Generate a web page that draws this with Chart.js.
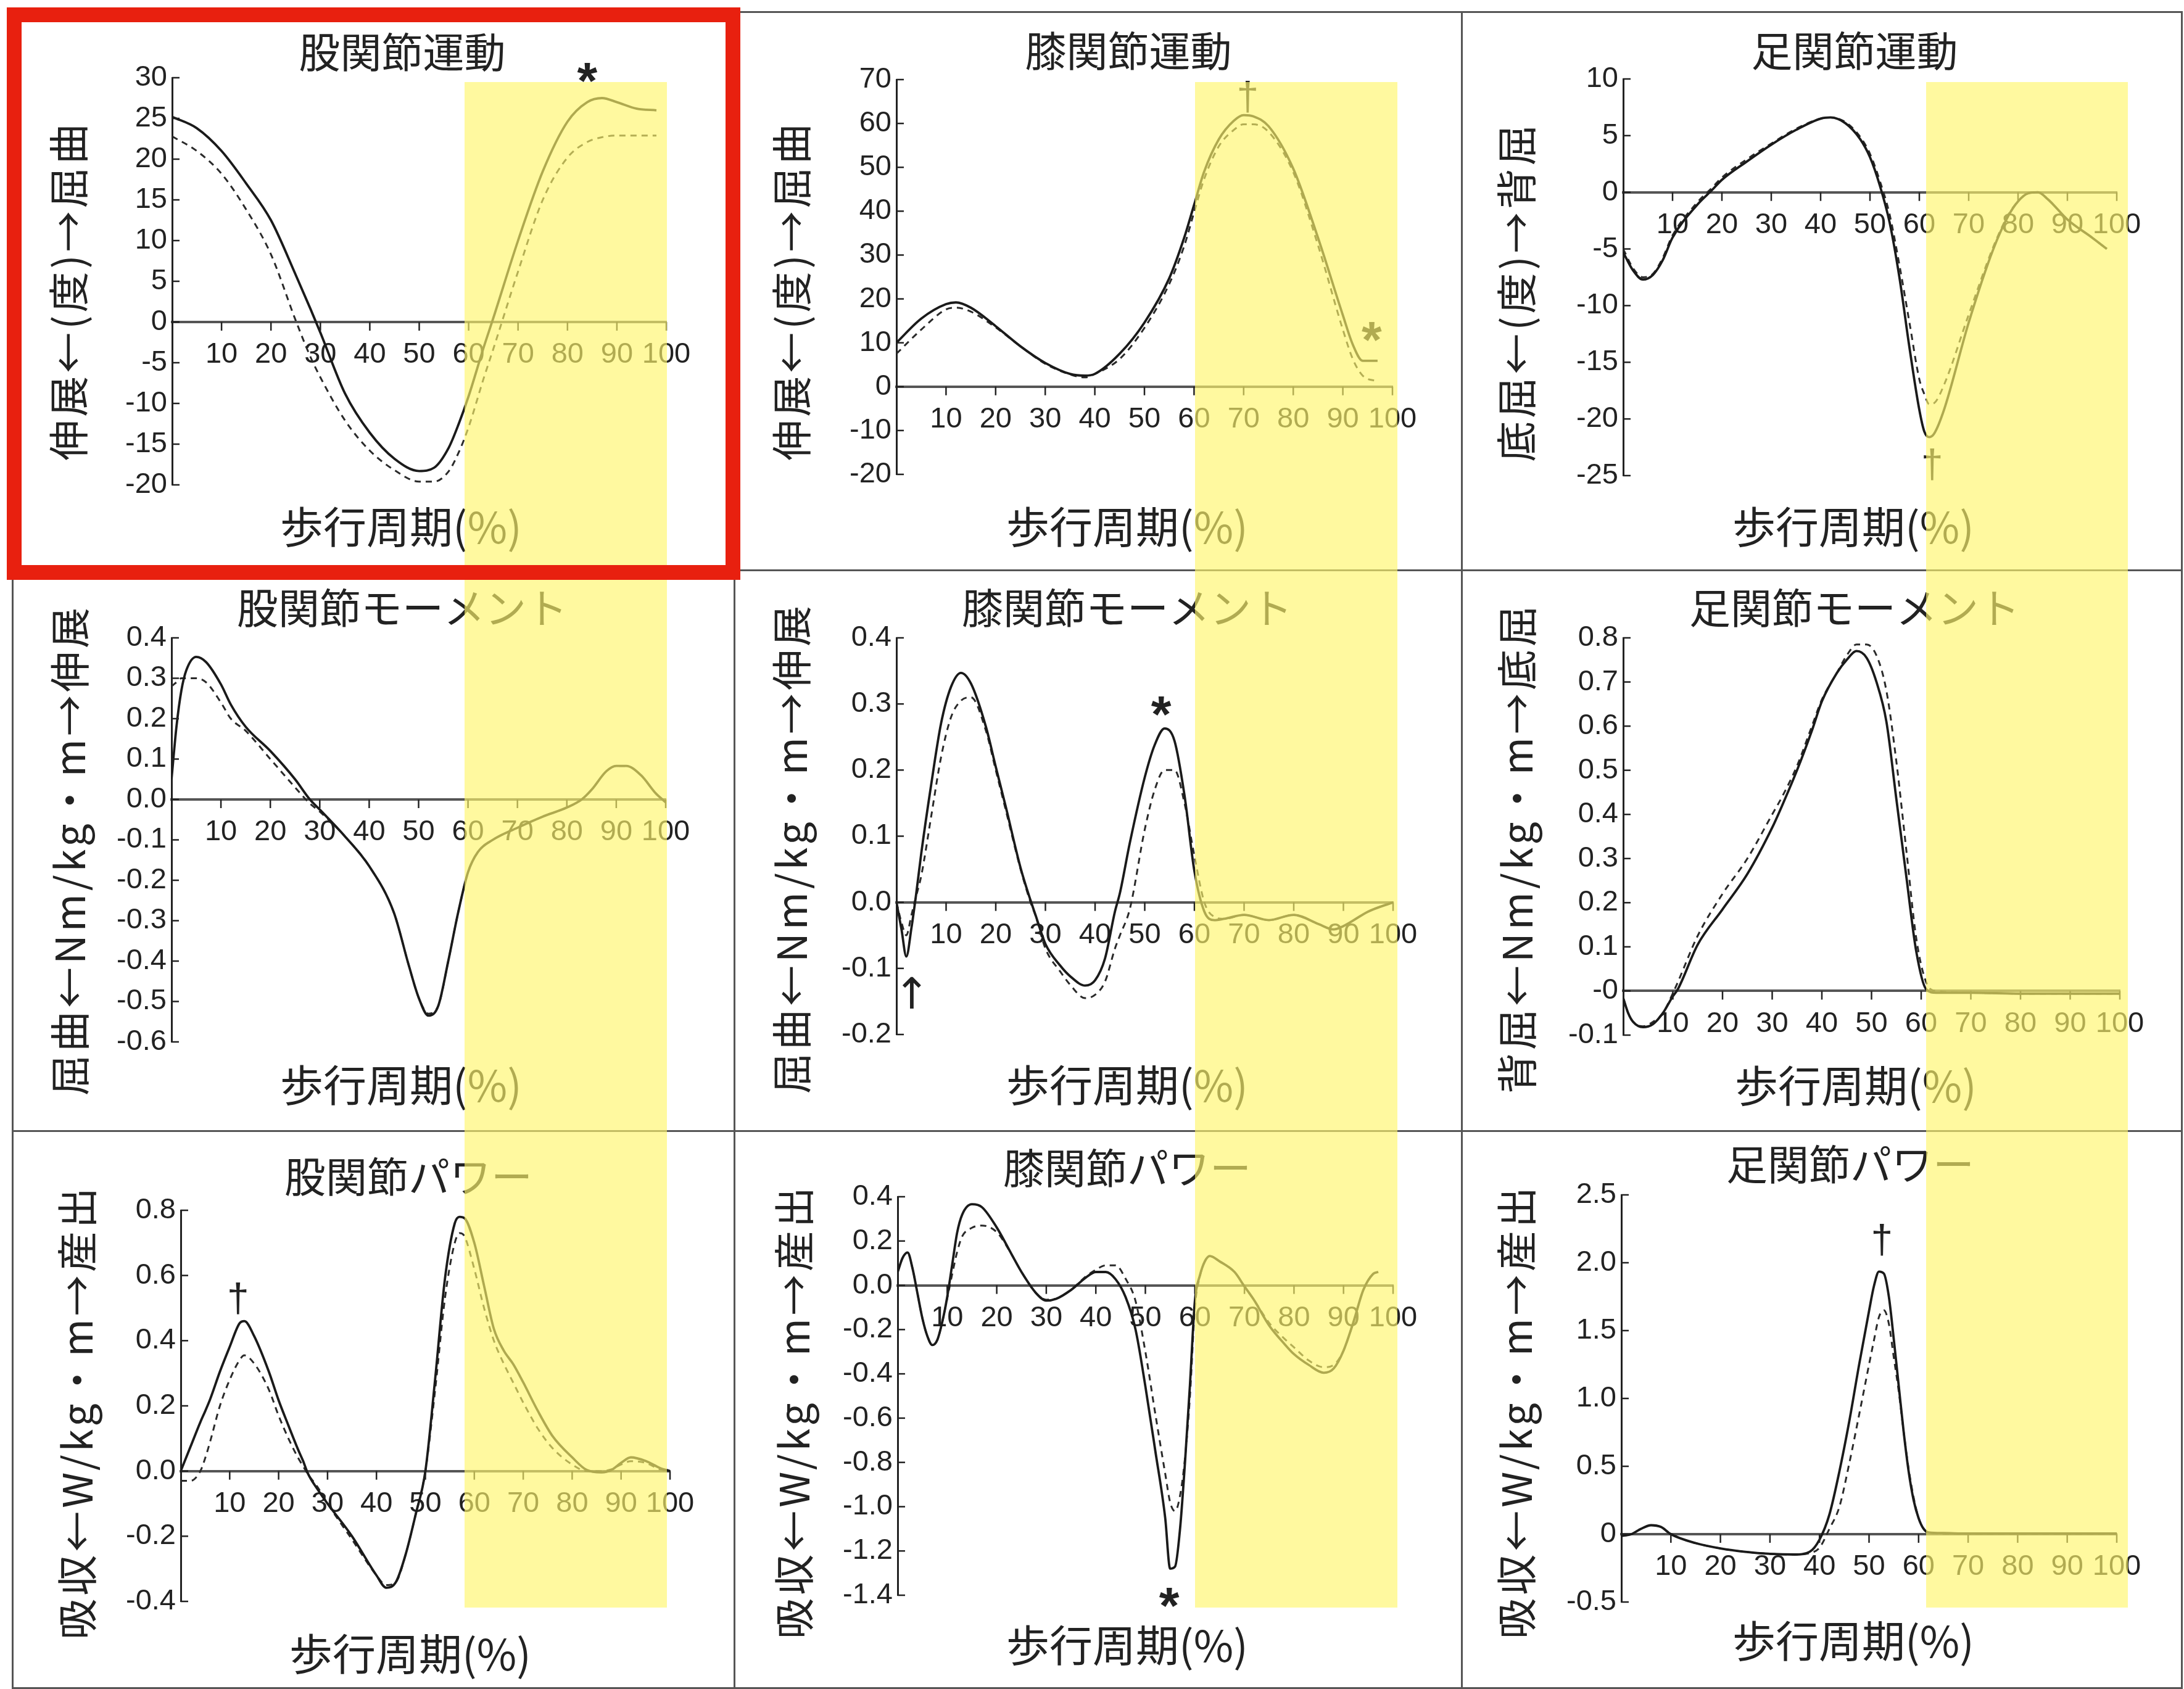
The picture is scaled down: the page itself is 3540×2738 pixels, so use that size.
<!DOCTYPE html>
<html>
<head>
<meta charset="utf-8">
<script src="https://cdn.jsdelivr.net/npm/chart.js@4.4.1/dist/chart.umd.min.js"></script>
<style>
html,body{margin:0;padding:0;background:#fff;}
body{width:3540px;height:2738px;position:relative;overflow:hidden;}
.panel{position:absolute;}
.gline{position:absolute;background:#555;}
.band{position:absolute;background:rgba(255,246,108,0.65);pointer-events:none;}
#redbox{position:absolute;border:24px solid #E8200F;box-sizing:border-box;pointer-events:none;}
</style>
</head>
<body>
<script>
// ---------- shared x axis (gait cycle %) ----------
const gaitX = [0,10,20,30,40,50,60,70,80,90,100];
const gaitXLabels = ['','10','20','30','40','50','60','70','80','90','100'];
const xCaption = '歩行周期(%)';

// ---------- 股関節運動 ----------
const hipAngleX = [0,5,10,15,20,25,28,30,35,40,45,50,53,56,58,60,63,65,70,75,80,84,87,90,94,98];
const hipAngleSolid = [25.2,23.8,21.0,17.0,12.5,5.8,1.6,-1.3,-8.8,-13.6,-16.8,-18.3,-17.9,-15.4,-12.5,-9.1,-3.2,0.5,10.0,18.5,24.6,27.0,27.5,27.0,26.2,26.0];
const hipAngleDashed = [22.8,21.0,18.2,13.8,8.3,0.2,-4.3,-6.8,-12.1,-15.8,-18.2,-19.6,-19.6,-18.3,-16.0,-12.9,-7.0,-3.3,6.2,15.0,20.2,22.1,22.7,22.9,22.9,22.9];
const hipAngleTicks = [30,25,20,15,10,5,0,-5,-10,-15,-20];
const hipAngleTickLabels = ['30','25','20','15','10','5','0','-5','-10','-15','-20'];
const hipAngleMarks = [{x:84,y:30.6,t:'*'}];

// ---------- 膝関節運動 ----------
const kneeAngleX = [0,5,10,12,15,20,25,30,35,38,40,45,50,55,58,60,62,65,68,70,72,75,80,85,90,92,94,97];
const kneeAngleSolid = [10.0,15.5,18.8,19.2,18.0,13.8,9.2,5.4,2.9,2.5,2.9,7.5,14.6,24.7,33.9,41.4,48.9,56.4,60.6,61.9,61.6,59.4,49.7,33.9,16.3,9.6,5.9,5.9];
const kneeAngleDashed = [7.5,13.0,17.6,18.0,17.1,13.5,9.2,5.2,2.8,2.1,2.9,6.3,13.4,23.4,32.0,39.7,47.2,54.8,58.5,59.8,59.8,58.1,48.9,32.2,13.0,6.3,2.5,1.2];
const kneeAngleTicks = [70,60,50,40,30,20,10,0,-10,-20];
const kneeAngleTickLabels = ['70','60','50','40','30','20','10','0','-10','-20'];
const kneeAngleMarks = [{x:70.8,y:66,t:'†'},{x:95.8,y:12.5,t:'*'}];

// ---------- 足関節運動 ----------
const ankleAngleX = [0,2,4,6,8,10,15,18,20,25,30,35,40,42,45,48,50,52,54,56,58,60,61,62,63,65,70,75,78,80,82,84,86,90,95,98];
const ankleAngleSolid = [-5.3,-6.9,-7.7,-7.3,-6.0,-4.0,-1.1,0.2,1.1,2.7,4.2,5.5,6.5,6.6,6.1,4.7,3.1,0.6,-2.7,-7.6,-13.7,-19.2,-21.1,-21.6,-21.3,-19.2,-11.5,-5.0,-2.1,-0.8,-0.1,0.0,-0.6,-2.4,-4.0,-5.0];
const ankleAngleDashed = [-5.0,-6.7,-7.5,-7.2,-5.8,-3.8,-0.9,0.4,1.3,2.9,4.3,5.6,6.5,6.6,6.2,4.9,3.4,1.0,-2.0,-6.5,-11.5,-16.5,-17.8,-18.7,-18.6,-17.0,-10.8,-4.8,-2.0,-0.8,-0.1,0.0,-0.6,-2.4,-4.0,-5.0];
const ankleAngleTicks = [10,5,0,-5,-10,-15,-20,-25];
const ankleAngleTickLabels = ['10','5','0','-5','-10','-15','-20','-25'];
const ankleAngleMarks = [{x:62.6,y:-24,t:'†'}];

// ---------- 股関節モーメント ----------
const hipMomX = [0,1,2,3,5,7,10,12,15,20,25,28,30,35,40,45,48,50,52,54,56,58,60,62,65,70,75,80,83,85,88,90,92,95,98,100];
const hipMomSolid = [0.05,0.18,0.27,0.32,0.353,0.34,0.285,0.235,0.18,0.12,0.05,0.0,-0.025,-0.09,-0.165,-0.28,-0.41,-0.49,-0.535,-0.51,-0.40,-0.28,-0.18,-0.13,-0.10,-0.07,-0.043,-0.02,0.0,0.024,0.07,0.083,0.083,0.06,0.015,-0.007];
const hipMomDashed = [0.28,0.29,0.30,0.30,0.30,0.29,0.24,0.20,0.17,0.10,0.03,-0.01,-0.03,-0.09,-0.165,-0.28,-0.41,-0.49,-0.53,-0.51,-0.40,-0.28,-0.18,-0.13,-0.10,-0.07,-0.043,-0.02,0.0,0.024,0.07,0.083,0.083,0.06,0.015,-0.007];
const hipMomTicks = [0.4,0.3,0.2,0.1,0,-0.1,-0.2,-0.3,-0.4,-0.5,-0.6];
const hipMomTickLabels = ['0.4','0.3','0.2','0.1','0.0','-0.1','-0.2','-0.3','-0.4','-0.5','-0.6'];
const hipMomMarks = [];

// ---------- 膝関節モーメント ----------
const kneeMomX = [0,1,2,3,4,5,7,9,11,13,15,18,20,22,25,27,28,30,33,35,38,40,42,44,45,47,50,52,54,56,58,60,62,64,66,70,75,80,85,88,90,95,100];
const kneeMomSolid = [0,-0.04,-0.082,-0.04,0.014,0.074,0.178,0.271,0.326,0.347,0.331,0.266,0.205,0.145,0.052,0.003,-0.019,-0.063,-0.096,-0.112,-0.126,-0.118,-0.085,-0.014,0.014,0.09,0.189,0.238,0.263,0.244,0.162,0.047,-0.014,-0.027,-0.025,-0.019,-0.027,-0.019,-0.033,-0.041,-0.036,-0.014,0.0];
const kneeMomDashed = [0,-0.03,-0.05,-0.02,0.01,0.04,0.13,0.22,0.28,0.305,0.31,0.26,0.2,0.14,0.05,0.0,-0.02,-0.07,-0.105,-0.125,-0.145,-0.14,-0.12,-0.07,-0.05,-0.01,0.11,0.17,0.2,0.2,0.15,0.07,0.0,-0.022,-0.025,-0.019,-0.027,-0.019,-0.033,-0.041,-0.036,-0.014,0.0];
const kneeMomTicks = [0.4,0.3,0.2,0.1,0,-0.1,-0.2];
const kneeMomTickLabels = ['0.4','0.3','0.2','0.1','0.0','-0.1','-0.2'];
const kneeMomMarks = [{x:53.3,y:0.296,t:'*'},{x:3.1,y:-0.137,t:'↑'}];

// ---------- 足関節モーメント ----------
const ankleMomX = [0,1,2,4,6,8,10,11,15,20,25,30,32,35,38,40,43,45,47,49,51,53,55,57,59,61,63,70,80,90,100];
const ankleMomSolid = [-0.016,-0.05,-0.07,-0.082,-0.075,-0.05,-0.012,0.004,0.105,0.185,0.265,0.37,0.42,0.5,0.59,0.656,0.72,0.75,0.77,0.755,0.7,0.61,0.435,0.26,0.09,0.004,-0.004,-0.004,-0.006,-0.006,-0.006];
const ankleMomDashed = [-0.016,-0.05,-0.07,-0.08,-0.07,-0.05,-0.005,0.02,0.125,0.22,0.3,0.4,0.44,0.51,0.6,0.66,0.72,0.76,0.785,0.785,0.76,0.68,0.52,0.32,0.12,0.02,0.0,-0.004,-0.006,-0.006,-0.006];
const ankleMomTicks = [0.8,0.7,0.6,0.5,0.4,0.3,0.2,0.1,0,-0.1];
const ankleMomTickLabels = ['0.8','0.7','0.6','0.5','0.4','0.3','0.2','0.1','-0','-0.1'];
const ankleMomMarks = [];

// ---------- 股関節パワー ----------
const hipPowX = [0,2,4,5,6,8,10,12,13,15,18,20,22,24,25,26,28,30,35,40,42,44,46,48,50,52,54,56,57,58,60,62,64,66,68,70,73,76,80,83,86,88,90,92,95,98,100];
const hipPowSolid = [0,0.075,0.15,0.184,0.22,0.305,0.381,0.453,0.46,0.414,0.305,0.217,0.14,0.065,0.031,-0.008,-0.057,-0.1,-0.2,-0.32,-0.358,-0.34,-0.254,-0.134,0,0.283,0.59,0.76,0.78,0.776,0.7,0.568,0.436,0.37,0.327,0.272,0.184,0.107,0.042,0.003,-0.004,0.003,0.025,0.042,0.031,0.009,0];
const hipPowDashed = [-0.03,-0.03,0,0.04,0.09,0.2,0.28,0.34,0.355,0.33,0.25,0.17,0.1,0.04,0.015,-0.01,-0.05,-0.1,-0.21,-0.32,-0.35,-0.34,-0.254,-0.134,0,0.25,0.53,0.7,0.73,0.72,0.62,0.5,0.4,0.33,0.27,0.21,0.13,0.07,0.02,0,0,0.005,0.02,0.03,0.025,0.005,0];
const hipPowTicks = [0.8,0.6,0.4,0.2,0,-0.2,-0.4];
const hipPowTickLabels = ['0.8','0.6','0.4','0.2','0.0','-0.2','-0.4'];
const hipPowMarks = [{x:11.7,y:0.53,t:'†'}];

// ---------- 膝関節パワー ----------
const kneePowX = [0,1,2,3,4,5,6,7,8,9,10,11,12,13,15,17,20,23,25,28,30,32,35,38,40,42,44,46,48,50,52,54,55,56,57,58,59,60,61,62,63,65,68,70,72,75,78,80,83,86,88,90,92,94,96,97];
const kneePowSolid = [0.06,0.124,0.148,0.076,-0.037,-0.15,-0.23,-0.27,-0.247,-0.166,-0.053,0.092,0.237,0.318,0.366,0.353,0.261,0.14,0.06,-0.037,-0.069,-0.061,-0.021,0.035,0.06,0.06,0.027,-0.053,-0.198,-0.456,-0.747,-1.05,-1.28,-1.27,-1.1,-0.8,-0.45,-0.069,0.044,0.108,0.132,0.108,0.06,-0.005,-0.069,-0.182,-0.263,-0.311,-0.36,-0.395,-0.376,-0.295,-0.166,-0.021,0.052,0.06];
const kneePowDashed = [0.06,0.124,0.148,0.076,-0.037,-0.15,-0.23,-0.27,-0.247,-0.166,-0.06,0.05,0.15,0.22,0.26,0.27,0.24,0.14,0.06,-0.037,-0.065,-0.06,-0.02,0.04,0.07,0.09,0.09,0.03,-0.07,-0.3,-0.58,-0.85,-0.98,-1.02,-0.95,-0.78,-0.5,-0.1,0.04,0.108,0.132,0.108,0.06,-0.005,-0.069,-0.17,-0.24,-0.28,-0.34,-0.37,-0.36,-0.295,-0.166,-0.021,0.052,0.06];
const kneePowTicks = [0.4,0.2,0,-0.2,-0.4,-0.6,-0.8,-1.0,-1.2,-1.4];
const kneePowTickLabels = ['0.4','0.2','0.0','-0.2','-0.4','-0.6','-0.8','-1.0','-1.2','-1.4'];
const kneePowMarks = [{x:54.8,y:-1.41,t:'*'}];

// ---------- 足関節パワー ----------
const anklePowX = [0,2,4,6,8,10,15,20,25,30,35,38,40,42,44,46,48,50,51,52,53,54,55,56,57,58,59,60,61,62,65,70,80,90,100];
const anklePowSolid = [-0.013,0,0.04,0.066,0.053,0,-0.066,-0.105,-0.13,-0.145,-0.15,-0.13,-0.04,0.145,0.46,0.83,1.25,1.645,1.83,1.935,1.92,1.75,1.434,1.09,0.75,0.46,0.25,0.118,0.04,0.013,0.008,0.005,0.005,0.005,0.005];
const anklePowDashed = [-0.013,0,0.04,0.066,0.053,0,-0.066,-0.105,-0.13,-0.145,-0.15,-0.14,-0.1,0.04,0.2,0.52,0.88,1.25,1.43,1.6,1.65,1.55,1.3,1.05,0.75,0.48,0.27,0.12,0.04,0.01,0.005,0.005,0.005,0.005,0.005];
const anklePowTicks = [2.5,2.0,1.5,1.0,0.5,0,-0.5];
const anklePowTickLabels = ['2.5','2.0','1.5','1.0','0.5','0','-0.5'];
const anklePowMarks = [{x:52.6,y:2.17,t:'†'}];

// ---------- layout (page pixel positions) ----------
const panels = [
  {title:'股関節運動', yTitle:'伸展←(度)→屈曲', x:hipAngleX, solid:hipAngleSolid, dashed:hipAngleDashed, ticks:hipAngleTicks, labels:hipAngleTickLabels, marks:hipAngleMarks,
   box:[20,19,1191,925], plot:[279,1080,126,786], tpos:[652,85], cpos:[650,854], ypos:[111,471]},
  {title:'膝関節運動', yTitle:'伸展←(度)→屈曲', x:kneeAngleX, solid:kneeAngleSolid, dashed:kneeAngleDashed, ticks:kneeAngleTicks, labels:kneeAngleTickLabels, marks:kneeAngleMarks,
   box:[1191,19,2370,925], plot:[1453,2257,129,769], tpos:[1829,83], cpos:[1827,854], ypos:[1283,471]},
  {title:'足関節運動', yTitle:'底屈←(度)→背屈', x:ankleAngleX, solid:ankleAngleSolid, dashed:ankleAngleDashed, ticks:ankleAngleTicks, labels:ankleAngleTickLabels, marks:ankleAngleMarks,
   box:[2370,19,3538,925], plot:[2631,3431,128,771], tpos:[3006,83], cpos:[3004,854], ypos:[2458,473]},
  {title:'股関節モーメント', yTitle:'屈曲←Nm/kg・m→伸展', x:hipMomX, solid:hipMomSolid, dashed:hipMomDashed, ticks:hipMomTicks, labels:hipMomTickLabels, marks:hipMomMarks,
   box:[20,925,1191,1834], plot:[278,1079,1034,1689], tpos:[652,986], cpos:[650,1759], ypos:[113,1378]},
  {title:'膝関節モーメント', yTitle:'屈曲←Nm/kg・m→伸展', x:kneeMomX, solid:kneeMomSolid, dashed:kneeMomDashed, ticks:kneeMomTicks, labels:kneeMomTickLabels, marks:kneeMomMarks,
   box:[1191,925,2370,1834], plot:[1453,2258,1034,1677], tpos:[1827,986], cpos:[1827,1759], ypos:[1283,1375]},
  {title:'足関節モーメント', yTitle:'背屈←Nm/kg・m→底屈', x:ankleMomX, solid:ankleMomSolid, dashed:ankleMomDashed, ticks:ankleMomTicks, labels:ankleMomTickLabels, marks:ankleMomMarks,
   box:[2370,925,3538,1834], plot:[2631,3436,1034,1678], tpos:[3006,986], cpos:[3008,1760], ypos:[2459,1375]},
  {title:'股関節パワー', yTitle:'吸収←W/kg・m→産出', x:hipPowX, solid:hipPowSolid, dashed:hipPowDashed, ticks:hipPowTicks, labels:hipPowTickLabels, marks:hipPowMarks,
   box:[20,1834,1191,2737], plot:[293,1086,1962,2596], tpos:[662,1908], cpos:[665,2681], ypos:[125,2289]},
  {title:'膝関節パワー', yTitle:'吸収←W/kg・m→産出', x:kneePowX, solid:kneePowSolid, dashed:kneePowDashed, ticks:kneePowTicks, labels:kneePowTickLabels, marks:kneePowMarks,
   box:[1191,1834,2370,2737], plot:[1455,2258,1940,2586], tpos:[1827,1894], cpos:[1827,2667], ypos:[1287,2288]},
  {title:'足関節パワー', yTitle:'吸収←W/kg・m→産出', x:anklePowX, solid:anklePowSolid, dashed:anklePowDashed, ticks:anklePowTicks, labels:anklePowTickLabels, marks:anklePowMarks,
   box:[2370,1834,3538,2737], plot:[2628,3431,1937,2597], tpos:[2999,1888], cpos:[3004,2660], ypos:[2458,2288]}
];

const NUM_FONT = "'Liberation Sans', Arial, sans-serif";
const CJK_FONT = "'Noto Sans CJK JP', 'Noto Sans', sans-serif";
const INK = '#222';

function makeOverlay(p) {
  return {
    id: 'overlay',
    afterDraw(chart) {
      const ctx = chart.ctx, xs = chart.scales.x, ys = chart.scales.y, ca = chart.chartArea;
      const bl = p.box[0], bt = p.box[1];
      ctx.save();
      // inward tick marks on y axis, downward on x axis
      ctx.strokeStyle = INK; ctx.lineWidth = 2.5;
      p.ticks.forEach(v => {
        const py = ys.getPixelForValue(v);
        ctx.beginPath(); ctx.moveTo(ca.left, py); ctx.lineTo(ca.left + 12, py); ctx.stroke();
      });
      const y0 = ys.getPixelForValue(0);
      gaitX.forEach(v => {
        if (v === 0) return;
        const px = xs.getPixelForValue(v);
        ctx.beginPath(); ctx.moveTo(px, y0); ctx.lineTo(px, y0 + 14); ctx.stroke();
      });
      // titles
      ctx.fillStyle = INK; ctx.textAlign = 'center'; ctx.textBaseline = 'middle';
      ctx.font = '67px ' + CJK_FONT;
      ctx.fillText(p.title, p.tpos[0] - bl, p.tpos[1] - bt);
      ctx.font = '70px ' + CJK_FONT;
      ctx.fillText(xCaption, p.cpos[0] - bl, p.cpos[1] - bt);
      ctx.save();
      ctx.translate(p.ypos[0] - bl, p.ypos[1] - bt);
      ctx.rotate(-Math.PI / 2);
      ctx.font = '66px ' + CJK_FONT;
      if ('letterSpacing' in ctx) ctx.letterSpacing = '5px';
      ctx.fillText(p.yTitle, 0, 0);
      ctx.restore();
      // significance marks
      p.marks.forEach(m => {
        if (m.t === '*') ctx.font = 'bold 84px ' + NUM_FONT;
        else if (m.t === '†') ctx.font = '64px ' + NUM_FONT;
        else ctx.font = "70px 'DejaVu Sans', sans-serif";
        ctx.textBaseline = 'alphabetic';
        const mt = ctx.measureText(m.t);
        const cx = xs.getPixelForValue(m.x), cy = ys.getPixelForValue(m.y);
        ctx.fillText(m.t, cx, cy + (mt.actualBoundingBoxAscent - mt.actualBoundingBoxDescent) / 2);
      });
      ctx.restore();
    }
  };
}

panels.forEach(p => {
  const [bl, bt, br, bb] = p.box;
  const [pl, pr, pt, pb] = p.plot;
  const div = document.createElement('div');
  div.className = 'panel';
  div.style.cssText = `left:${bl}px;top:${bt}px;width:${br - bl}px;height:${bb - bt}px;`;
  const cv = document.createElement('canvas');
  div.appendChild(cv);
  document.body.appendChild(div);
  const yMin = Math.min(...p.ticks), yMax = Math.max(...p.ticks);
  new Chart(cv, {
    type: 'line',
    data: {
      datasets: [
        {data: p.x.map((v, k) => ({x: v, y: p.solid[k]})), borderColor: '#1a1a1a', borderWidth: 3.8,
         pointRadius: 0, cubicInterpolationMode: 'monotone', fill: false},
        {data: p.x.map((v, k) => ({x: v, y: p.dashed[k]})), borderColor: '#2a2a2a', borderWidth: 3,
         borderDash: [10, 8], pointRadius: 0, cubicInterpolationMode: 'monotone', fill: false}
      ]
    },
    options: {
      responsive: true, maintainAspectRatio: false, animation: false, devicePixelRatio: 1,
      layout: {padding: {left: 0, top: pt - bt, right: br - pr, bottom: bb - pb}},
      plugins: {legend: {display: false}, tooltip: {enabled: false}, title: {display: false}},
      scales: {
        x: {
          type: 'linear', min: 0, max: 100, position: {y: 0},
          afterBuildTicks: s => { s.ticks = gaitX.map(v => ({value: v})); },
          ticks: {callback: (v, k) => gaitXLabels[k], font: {family: NUM_FONT, size: 47}, color: INK,
                  padding: 25, maxRotation: 0, autoSkip: false},
          grid: {display: true, drawOnChartArea: false, drawTicks: false},
          border: {display: true, color: '#555', width: 4}
        },
        y: {
          type: 'linear', min: yMin, max: yMax, position: 'left',
          afterBuildTicks: s => { s.ticks = p.ticks.map(v => ({value: v})); },
          afterFit: s => { s.width = pl - bl; },
          ticks: {callback: (v, k) => p.labels[k], font: {family: NUM_FONT, size: 47}, color: INK,
                  padding: 8, autoSkip: false},
          grid: {display: true, drawOnChartArea: false, drawTicks: false},
          border: {display: true, color: '#222', width: 3}
        }
      }
    },
    plugins: [makeOverlay(p)]
  });
});

// table grid lines
const hLines = [[20,3538,18],[20,3538,923],[20,3538,1832],[20,3538,2735]];
const vLines = [[19,18,2738],[1189,18,2738],[2368,18,2738],[3535,18,2738]];
hLines.forEach(([x1, x2, y]) => {
  const d = document.createElement('div'); d.className = 'gline';
  d.style.cssText = `left:${x1}px;top:${y}px;width:${x2 - x1}px;height:3px;`;
  document.body.appendChild(d);
});
vLines.forEach(([x, y1, y2]) => {
  const d = document.createElement('div'); d.className = 'gline';
  d.style.cssText = `left:${x}px;top:${y1}px;width:3px;height:${y2 - y1}px;`;
  document.body.appendChild(d);
});

// swing-phase highlight bands
const bandCols = [[753,1081],[1937,2265],[3122,3449]];
bandCols.forEach(([x1, x2]) => {
  const d = document.createElement('div'); d.className = 'band';
  d.style.cssText = `left:${x1}px;top:133px;width:${x2 - x1}px;height:${2606 - 133}px;`;
  document.body.appendChild(d);
});

// red highlight box
const rb = document.createElement('div'); rb.id = 'redbox';
rb.style.cssText = 'left:11px;top:12px;width:1189px;height:928px;';
document.body.appendChild(rb);
</script>
</body>
</html>
